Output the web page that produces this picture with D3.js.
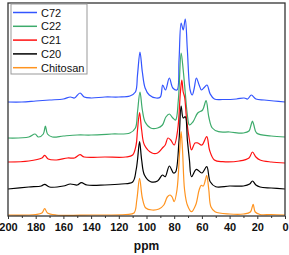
<!DOCTYPE html>
<html>
<head>
<meta charset="utf-8">
<script src="https://cdn.jsdelivr.net/npm/d3@7"></script>
<style>
  body { margin: 0; background: #fff; }
  svg { display: block; font-family: "Liberation Sans", Arial, sans-serif; }
</style>
</head>
<body>
<script>
// series names in legend order
var names = ["C72", "C22", "C21", "C20", "Chitosan"];
var colors = ["#3355ff", "#3dab6b", "#ff1010", "#000000", "#ff9420"];

// [ppm, stacked intensity]
var c72 = [[200,114],[190,114],[180,115],[170,116],[160,117],[155,119],[152,118],[148,123],[145,119],[140,118],[130,119],[120,119],[112,120],[108,124],[106.5,141],[104.7,164],[103,144],[101,128],[98,121],[93,118],[90,119],[88.3,131],[86.3,126],[83.5,138],[81,128],[78,126],[76.5,156],[75,193],[73.5,186],[72,197],[70.5,166],[68.5,126],[67,121],[65.5,128],[64,138],[62,131],[60.3,126],[58,129],[56.3,131],[54,122],[51,117],[45,116.5],[35,117],[29.5,118],[27,117],[24.3,121],[21,117],[15,116],[8,115],[0,114]];
var c22 = [[200,78],[185,79],[180.5,82],[178,79],[174.5,82],[173,90],[171.5,82],[168,79],[160,80],[150,81],[140,81],[125,82],[112,83],[108,88],[106.5,104],[104.7,124],[103,106],[101,94],[97,88],[92,88],[88.5,91],[86,99],[83.5,102],[81,98],[79,96],[77,116],[75,163],[73.5,146],[72,123],[70.5,101],[69,91],[66.5,94],[63,103],[59.5,106],[57,115.3],[55,99],[52.5,88],[48,84.3],[40,84],[30,83],[26,85],[24.5,91],[23.5,95],[22.5,91],[20.5,83],[10,80],[0,79]];
var c21 = [[200,54],[185,55],[175.5,58],[173.5,60.7],[171,57],[165,56],[157,58],[152,58],[148,61.3],[145,59],[130,59],[115,59],[110,61],[107.5,71],[106.5,86],[105,103.3],[103.5,86],[101.5,71],[96,63],[92,63],[88.5,68],[86.5,71],[84.5,78],[82.5,76],[80,71],[77.5,86],[75.5,124],[74.5,136],[73.5,124],[72.5,119],[71,96],[69,76],[67.5,66],[65,73],[63,73],[60,71],[56.5,79.3],[54.5,66],[51,56],[45,54.3],[33,55],[26,58],[23.5,64],[21,59],[18,56],[10,54],[0,53]];
var c20 = [[200,27],[185,29],[176,30],[173.5,31.7],[170,29],[160,30],[155,32],[150,31],[147,33.3],[143,31],[130,31],[118,32],[110,34],[107.5,46],[106.5,56],[105,74.3],[103.5,56],[101.5,41],[97,34.3],[92,35],[88.5,41],[86.5,39.3],[83.5,50],[80.5,43],[79,44],[76.5,76],[75,110],[73.5,98],[72,99.3],[70.5,76],[69,56],[67.5,39.3],[64,46.7],[60,43],[56.5,49.3],[54,34.3],[50,29.3],[40,30],[30,30],[25.5,32],[23.5,35],[21,31],[18,29],[10,28],[0,27]];
var chitosan = [[200,1],[180,1.5],[175.5,3],[173.5,7.3],[171.5,3],[165,1],[140,1],[115,1.5],[109,3],[107,16],[105,37.7],[103,18],[100.5,8],[96,6],[91,7],[87.5,11],[85,19],[83,21],[81.5,19],[80,14.3],[78,26],[76,66],[75,84.3],[74,66],[72.5,26],[70.5,11],[67.5,4.3],[64.5,11],[62,26],[60.5,30.7],[59,30],[57.5,36],[56.5,40.7],[55,26],[53.5,9.3],[50.5,4.3],[40,2],[30,2],[25,4],[23,11.7],[21.5,4],[18,1.5],[10,1.5],[0,1]];

var series = [c72, c22, c21, c20, chitosan];
var majorTicks = [200, 180, 160, 140, 120, 100, 80, 60, 40, 20, 0];
var minorTicks = [190, 170, 150, 130, 110, 90, 70, 50, 30, 10];

//set margin and size variables
var margin = {top: 3, right: 4, bottom: 39, left: 8},
    width = 289 - margin.left - margin.right,
    height = 255 - margin.top - margin.bottom;

//scales
var x = d3.scaleLinear().domain([200, 0]).range([0, width]);
var y = d3.scaleLinear().domain([0, 213]).range([height, 0]);

var svg = d3.select("body").append("svg")
    .attr("width", width + margin.left + margin.right)
    .attr("height", height + margin.top + margin.bottom)
    .append("g")
    .attr("transform", "translate(" + margin.left + "," + margin.top + ")");

var line = d3.line()
    .x(d => x(d[0]))
    .y(d => y(d[1]))
    .curve(d3.curveCatmullRom.alpha(0.5));

//spectra, first plotted sits underneath
series.forEach((s, i) => {
    svg.append("path")
        .datum(s)
        .attr("d", line)
        .attr("fill", "none")
        .attr("stroke", colors[i])
        .attr("stroke-width", 1.2)
        .attr("stroke-linejoin", "round");
});

//minor ticks
svg.append("g")
    .attr("transform", "translate(0," + height + ")")
    .call(d3.axisBottom(x).tickValues(minorTicks).tickSize(2).tickSizeOuter(0).tickFormat(""))
    .call(g => g.select(".domain").remove())
    .selectAll("line").attr("stroke", "#333");

//major ticks with labels
svg.append("g")
    .attr("transform", "translate(0," + height + ")")
    .call(d3.axisBottom(x).tickValues(majorTicks).tickSize(3).tickSizeOuter(0).tickPadding(4))
    .call(g => g.select(".domain").remove())
    .call(g => g.selectAll("line").attr("stroke", "#333"))
    .selectAll("text")
    .attr("font-size", 11)
    .attr("font-weight", "bold")
    .attr("font-family", "'Liberation Sans', Arial, sans-serif")
    .attr("fill", "#111");

//frame
svg.append("rect")
    .attr("width", width)
    .attr("height", height)
    .attr("fill", "none")
    .attr("stroke", "#333")
    .attr("stroke-width", 1.3);

//axis title
svg.append("text")
    .attr("x", width / 2)
    .attr("y", height + 34)
    .attr("text-anchor", "middle")
    .attr("font-size", 12)
    .attr("font-weight", "bold")
    .attr("fill", "#111")
    .text("ppm");

//legend
var legend = svg.append("g").attr("transform", "translate(3,1)");
legend.append("rect")
    .attr("width", 76)
    .attr("height", 70)
    .attr("fill", "#fff")
    .attr("stroke", "#999")
    .attr("stroke-width", 1);
names.forEach((n, i) => {
    var ly = 8.5 + i * 13.8;
    legend.append("line")
        .attr("x1", 2).attr("x2", 26)
        .attr("y1", ly).attr("y2", ly)
        .attr("stroke", colors[i])
        .attr("stroke-width", 1.5);
    legend.append("text")
        .attr("x", 30)
        .attr("y", ly + 4)
        .attr("font-size", 11)
        .attr("fill", "#111")
        .text(n);
});
</script>
</body>
</html>
